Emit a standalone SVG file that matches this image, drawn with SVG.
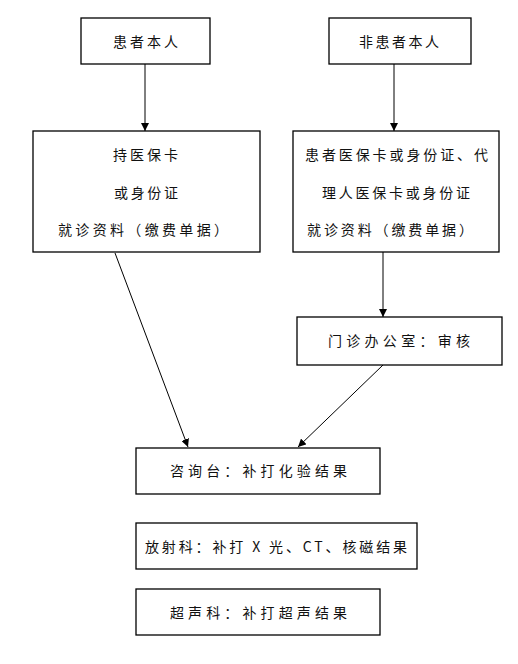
<svg xmlns="http://www.w3.org/2000/svg" width="518" height="664" viewBox="0 0 518 664">
<style>
.box{fill:#fff;stroke:#000;stroke-width:1.3}
.t{font-family:"Noto Sans CJK SC","Liberation Serif",serif;font-size:14px;fill:#111}
.c{stroke:#000;stroke-width:1;fill:none;marker-end:url(#ah)}
</style>
<defs>
<marker id="ah" viewBox="0 0 10 10" refX="10" refY="5" markerWidth="8" markerHeight="8" markerUnits="userSpaceOnUse" orient="auto">
<path d="M0,0 L10,5 L0,10 z" fill="#000"/>
</marker>
</defs>
<rect width="518" height="664" fill="#fff"/>
<g id="connectors">
<line class="c" x1="145" y1="64" x2="145" y2="131"/>
<line class="c" x1="394" y1="64" x2="394" y2="131"/>
<line class="c" x1="383" y1="252" x2="383" y2="317"/>
<line class="c" x1="115" y1="253" x2="188" y2="447"/>
<line class="c" x1="383" y1="365" x2="298" y2="447"/>
</g>
<g id="n1"><rect class="box" x="81" y="18" width="129" height="46"/><text class="t" x="113" y="47" textLength="65" lengthAdjust="spacing">患者本人</text></g>
<g id="n2"><rect class="box" x="329" y="18" width="142" height="46"/><text class="t" x="359" y="47" textLength="80" lengthAdjust="spacing">非患者本人</text></g>
<g id="n3"><rect class="box" x="33" y="131" width="227" height="121"/>
<text class="t" x="113" y="160" textLength="65" lengthAdjust="spacing">持医保卡</text>
<text class="t" x="114" y="198" textLength="64" lengthAdjust="spacing">或身份证</text>
<text class="t" x="58" y="235" textLength="170" lengthAdjust="spacing">就诊资料（缴费单据）</text></g>
<g id="n4"><rect class="box" x="293" y="131" width="206" height="121"/>
<text class="t" x="305" y="160" textLength="183" lengthAdjust="spacing">患者医保卡或身份证、代</text>
<text class="t" x="322" y="198" textLength="148" lengthAdjust="spacing">理人医保卡或身份证</text>
<text class="t" x="307" y="235" textLength="166" lengthAdjust="spacing">就诊资料（缴费单据）</text></g>
<g id="n5"><rect class="box" x="297" y="317" width="205" height="48"/><text class="t" x="328" y="346" textLength="142" lengthAdjust="spacing">门诊办公室：审核</text></g>
<g id="n6"><rect class="box" x="136" y="448" width="244" height="46"/><text class="t" x="170" y="476" textLength="177" lengthAdjust="spacing">咨询台：补打化验结果</text></g>
<g id="n7"><rect class="box" x="136" y="523" width="281" height="46"/><text class="t" x="145" y="552" textLength="262" lengthAdjust="spacing">放射科：补打 X 光、CT、核磁结果</text></g>
<g id="n8"><rect class="box" x="136" y="589" width="244" height="46"/><text class="t" x="170" y="618" textLength="177" lengthAdjust="spacing">超声科：补打超声结果</text></g>
</svg>
